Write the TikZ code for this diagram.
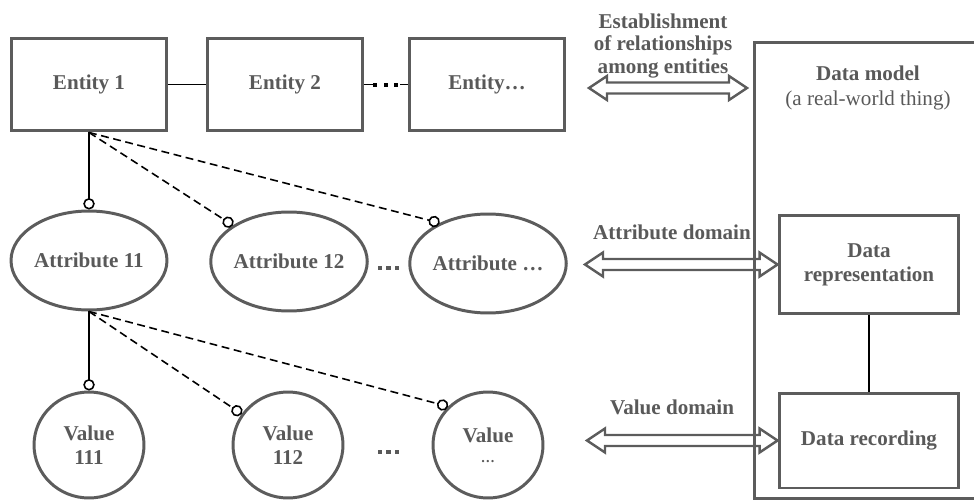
\documentclass[tikz,border=0pt]{standalone}
\usepackage{fontspec}
\setmainfont{Liberation Serif}
\usetikzlibrary{calc,arrows.meta,shapes.geometric}
\definecolor{txtgray}{RGB}{89,89,89}
\definecolor{linegray}{RGB}{92,92,92}

% hollow double-headed arrow between two named points at the same height
\newcommand{\hollowdbl}[2]{%
  \draw[harrow] (#1) -- ($(#1)+(18,-12)$) -- ($(#1)+(18,-5.5)$)
    -- ($(#2)+(-18,-5.5)$) -- ($(#2)+(-18,-12)$) -- (#2)
    -- ($(#2)+(-18,12)$) -- ($(#2)+(-18,5.5)$)
    -- ($(#1)+(18,5.5)$) -- ($(#1)+(18,12)$) -- cycle;}

\begin{document}
\begin{tikzpicture}[x=0.02cm,y=-0.02cm,
  every node/.style={text=txtgray, font=\fontsize{12}{13.5}\selectfont\bfseries},
  entbox/.style={draw=linegray, line width=1.7pt, rectangle,
    minimum width=3.12cm, minimum height=1.86cm, inner sep=0pt},
  attr/.style={draw=linegray, line width=1.7pt, ellipse,
    minimum width=3.12cm, minimum height=1.98cm, inner sep=0pt},
  val/.style={draw=linegray, line width=1.7pt, ellipse,
    minimum width=2.2cm, minimum height=2.12cm, inner sep=0pt, align=center},
  dmbox/.style={draw=linegray, line width=1.7pt, rectangle,
    minimum width=3.6cm, inner sep=0pt, align=center},
  conn/.style={draw=black, line width=0.9pt},
  dconn/.style={conn, dash pattern=on 4.5pt off 2.6pt},
  ring/.style={-{Circle[open, length=6.5pt, fill=white]}},
  harrow/.style={draw=linegray, line width=1.4pt, line join=miter}
]
\useasboundingbox (0,0) rectangle (974,500);
\clip (0,0) rectangle (974,500);

% entity row
\node[entbox] (e1) at (89,84.5) {Entity 1};
\node[entbox] (e2) at (285,84.5) {Entity 2};
\node[entbox] (e3) at (487,84.5) {Entity…};

% attribute row
\node[attr] (a1) at (89,260.5) {Attribute 11};
\node[attr] (a2) at (289,261.5) {Attribute 12};
\node[attr] (a3) at (488,263.5) {Attribute …};

% value row
\node[val] (v1) at (89,445) {Value\\111};
\node[val] (v2) at (288,445) {Value\\112};
\node[val] (v3) at (488,445) {Value\\[-2pt]{\fontsize{8}{9}\selectfont …}};

% links between entities
\draw[conn] (e1.east) -- (e2.west);
\draw[conn, dash pattern=on 5.1pt off 15.3pt on 6pt] (e2.east) -- (e3.west);
\foreach \dx in {375,385.5,396}
  \fill[black] (\dx-2,83) rectangle (\dx+2,87);

% entity to attributes
\draw[conn, ring] (e1.south) -- (a1.north);
\draw[dconn, ring] (e1.south) -- (a2);
\draw[dconn, ring] (e1.south) -- (a3.140);

% attribute to values
\draw[conn, ring] (a1.south) -- (v1.north);
\draw[dconn, ring] (a1.south) -- (v2);
\draw[dconn, ring] (a1.south) -- (v3.136);

% continuation dots
\foreach \dy in {268,452}
  \foreach \dx in {380,388.5,397}
    \fill[txtgray] (\dx-2.3,\dy-2.3) rectangle (\dx+2.3,\dy+2.3);

% data model side
\node[draw=linegray, line width=1.7pt, rectangle, anchor=north west,
  minimum width=4.94cm, minimum height=9.12cm, inner sep=0pt] (dm) at (753,41) {};
\node (dmtitle) at (868,73) {Data model};
\node[font=\fontsize{12}{13.5}\selectfont] (dmsub) at (868,100) {(a real-world thing)};
\node[dmbox, minimum height=1.98cm] (drep) at (869,264.5) {Data\\representation};
\node[dmbox, minimum height=1.9cm] (drec) at (869,440.5) {Data recording};
\draw[conn] (drep.south) -- (drec.north);

% domain arrows
\coordinate (relL) at (589,88);
\coordinate (relR) at (747,88);
\coordinate (attrL) at (585,264.5);
\coordinate (valL) at (587,440.5);
\hollowdbl{relL}{relR}
\hollowdbl{attrL}{drep.west}
\hollowdbl{valL}{drec.west}

\node[align=center, font=\fontsize{12}{12.6}\selectfont\bfseries] (lblrel) at (663,46)
  {Establishment\\of relationships\\among entities};
\node (lblattr) at (672,232) {Attribute domain};
\node (lblval) at (672,407) {Value domain};
\end{tikzpicture}
\end{document}
